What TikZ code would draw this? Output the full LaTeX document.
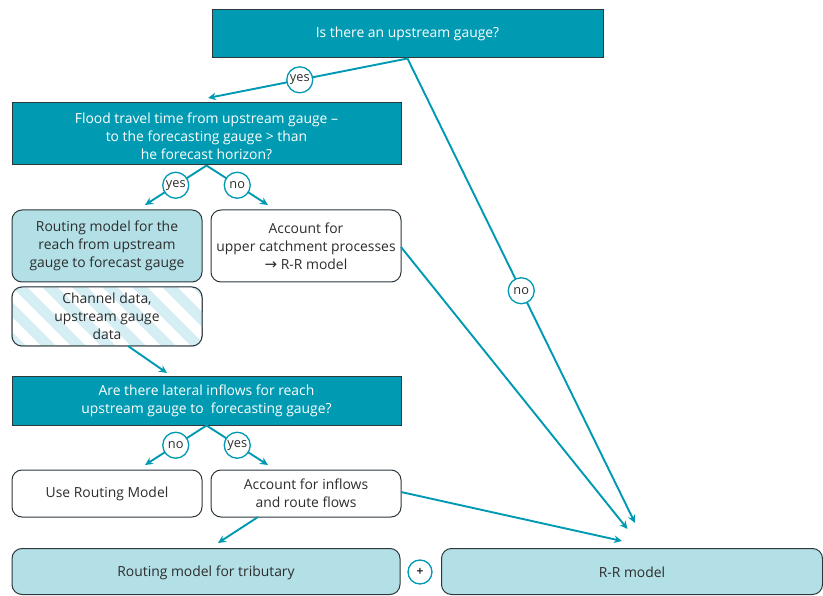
\documentclass[tikz,border=0pt]{standalone}
\usepackage{fontspec}
\setmainfont{Open Sans}
\usetikzlibrary{arrows.meta,calc}
\definecolor{teal1}{RGB}{0,155,178}
\definecolor{tealline}{RGB}{0,153,178}
\definecolor{lightb}{RGB}{178,224,230}
\definecolor{stripeb}{RGB}{212,238,243}
\definecolor{darkb}{RGB}{45,55,60}
\definecolor{txt}{RGB}{45,45,45}
\tikzset{
  qbox/.style={draw=darkb, line width=1pt, fill=teal1, text=white, align=center, inner sep=0pt,
    font=\fontsize{13.9}{18}\selectfont},
  rbox/.style={draw=darkb, line width=1pt, rounded corners=10pt, align=center, inner sep=0pt,
    text=txt, font=\fontsize{13.9}{18}\selectfont},
  arr/.style={draw=tealline, line width=1.9pt, -{Stealth[length=8pt,width=7.5pt]}},
  lab/.style={circle, draw=tealline, line width=1.3pt, fill=white, text=txt, inner sep=0pt,
    minimum size=26pt, font=\fontsize{12.8}{13}\selectfont},
}
\begin{document}
\begin{tikzpicture}[x=1pt,y=-1pt]
\useasboundingbox (0,0) rectangle (823,596);
% boxes
\node[qbox, minimum width=391pt, minimum height=48pt] (top) at (407.5,34) {Is there an upstream gauge?};
\node[qbox, minimum width=389pt, minimum height=62pt, text height=52pt] (b2) at (206.5,134)
  {Flood travel time from upstream gauge –\\to the forecasting gauge > than\\he forecast horizon?};
\node[rbox, fill=lightb, minimum width=190pt, minimum height=72pt] (b3) at (107,246)
  {Routing model for the\\reach from upstream\\gauge to forecast gauge};
\node[rbox, fill=white, minimum width=190pt, minimum height=72pt] (b4) at (306,246)
  {Account for\\upper catchment processes\\{\fontspec{DejaVu Sans}\fontsize{15}{18}\selectfont →}\ R-R model};
% striped box
\node[rbox, minimum width=190pt, minimum height=59pt] (b5) at (107,316.5) {};
\begin{scope}
  \clip[rounded corners=10pt] (b5.south west) rectangle (b5.north east);
  \fill[white] (b5.south west) rectangle (b5.north east);
  \foreach \i in {-4,...,9} {
    \fill[stripeb] ($(b5.north west)+(\i*30,0)$) -- ++(15,0) -- ++(60,60) -- ++(-15,0) -- cycle;
  }
\end{scope}
\node[rbox, minimum width=190pt, minimum height=59pt] (b5t) at (107,316.5)
  {Channel data,\\upstream gauge\\data};
\node[qbox, minimum width=389pt, minimum height=48pt] (b6) at (206.5,401)
  {Are there lateral inflows for reach\\upstream gauge to\ \ forecasting gauge?};
\node[rbox, fill=white, minimum width=190pt, minimum height=47pt] (b7) at (107,493.5) {Use Routing Model};
\node[rbox, fill=white, minimum width=190pt, minimum height=47pt] (b8) at (306,493.5)
  {Account for inflows\\and route flows};
\node[rbox, fill=lightb, minimum width=388pt, minimum height=46pt, text height=13pt] (b9) at (206,571.5) {Routing model for tributary};
\node[rbox, fill=lightb, minimum width=381pt, minimum height=46pt, text height=13pt] (b10) at (632,571.5) {R-R model};
\node[lab, minimum size=24pt, font=\bfseries\fontsize{12}{12}\selectfont] (plus) at (420,572) {+};
% coordinates for arrow ends
\coordinate (e2) at (208,98);
\coordinate (e3) at (145,205);
\coordinate (e4) at (268,205);
\coordinate (e6) at (167,373);
\coordinate (e7) at (145,465);
\coordinate (e8) at (268,465);
\coordinate (e9) at (218,543);
\coordinate (r1) at (627.5,529);
\coordinate (r2) at (635,523);
\coordinate (r3) at (622,541);
\coordinate (s5) at (128,346);
\coordinate (s8) at (258,517);
\coordinate (s4) at (401,247);
\coordinate (s8r) at (401,492);
% connectors
\draw[arr] (top.south) -- node[lab, pos=0.54] (ly1) {yes} (e2);
\draw[arr] (top.south) -- node[lab, pos=0.5] (ln1) {no} (r2);
\draw[arr] (b2.south) -- node[lab, pos=0.5] (ly2) {yes} (e3);
\draw[arr] (b2.south) -- node[lab, pos=0.5] (ln2) {no} (e4);
\draw[arr] (s5) -- (e6);
\draw[arr] (b6.south) -- node[lab, pos=0.5] (ln3) {no} (e7);
\draw[arr] (b6.south) -- node[lab, pos=0.5] (ly3) {yes} (e8);
\draw[arr] (s8) -- (e9);
\draw[arr] (s4) -- (r1);
\draw[arr] (s8r) -- (r3);
\end{tikzpicture}
\end{document}
